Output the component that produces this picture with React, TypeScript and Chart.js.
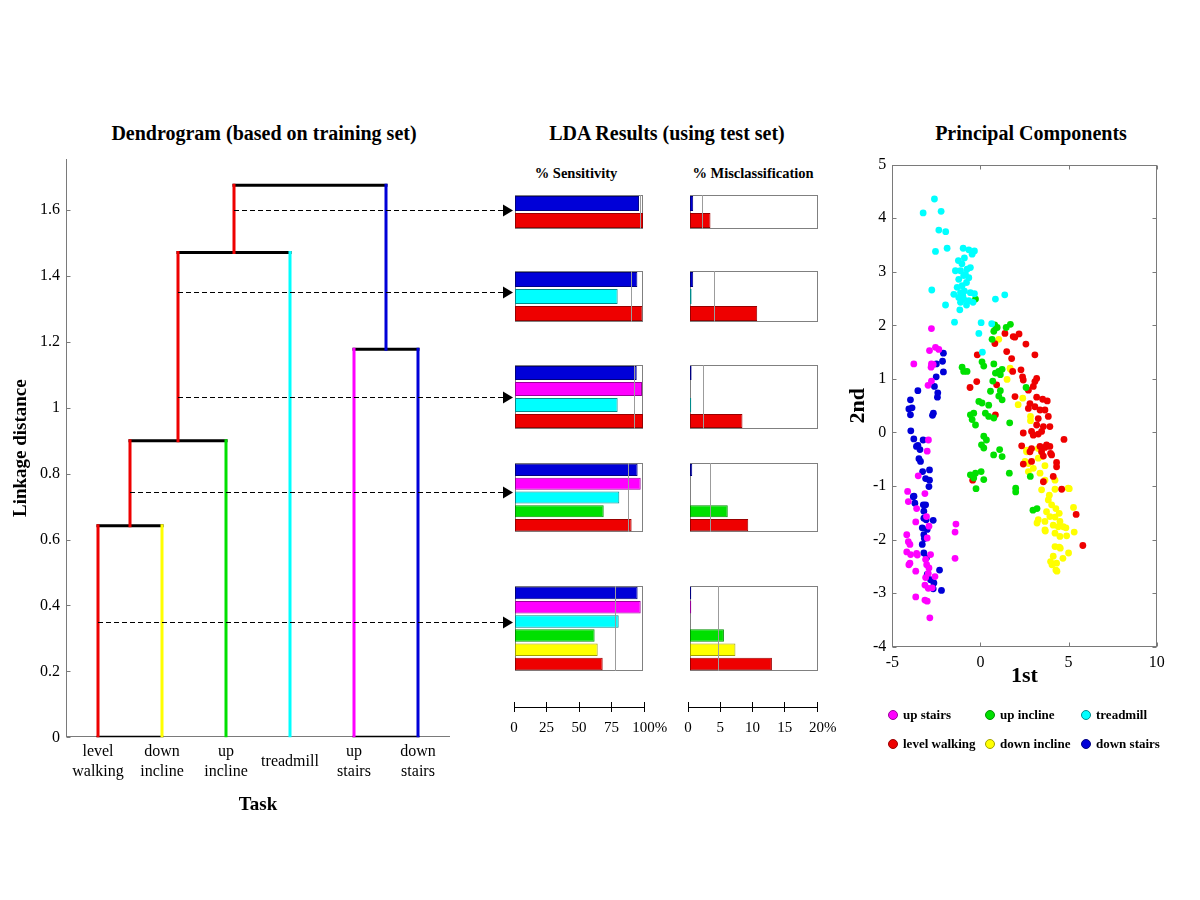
import React, { useEffect, useRef } from 'react';
import { Chart, registerables } from 'chart.js';

Chart.register(...registerables);

const SERIF = '"Liberation Serif", "Times New Roman", Times, serif';

// ---------------- classes & colours ----------------
const classNames: Record<string, string> = {
  levelWalking: 'level walking',
  downIncline: 'down incline',
  upIncline: 'up incline',
  treadmill: 'treadmill',
  upStairs: 'up stairs',
  downStairs: 'down stairs',
};
const palette: Record<string, string> = {
  levelWalking: '#ee0000',
  downIncline: '#ffff00',
  upIncline: '#00e000',
  treadmill: '#00ffff',
  upStairs: '#ff00ff',
  downStairs: '#0000d8',
};
const edgePalette: Record<string, string> = {
  levelWalking: '#990000',
  downIncline: '#a0a000',
  upIncline: '#009000',
  treadmill: '#008b8b',
  upStairs: '#990099',
  downStairs: '#000080',
};

// ---------------- dendrogram data ----------------
const leafLabels: (string | string[])[] = [
  ['level', 'walking'], ['down', 'incline'], ['up', 'incline'], 'treadmill', ['up', 'stairs'], ['down', 'stairs'],
];
const leafClasses = ['levelWalking', 'downIncline', 'upIncline', 'treadmill', 'upStairs', 'downStairs'];
// merges: node ids 1..6 are leaves, 7.. are merges in order
const mergeLeft = [1, 7, 8, 5, 9];
const mergeRight = [2, 3, 4, 6, 10];
const mergeHeight = [0.642, 0.9, 1.471, 1.178, 1.675];
const mergeStemClass = ['levelWalking', 'levelWalking', 'levelWalking', 'downStairs', ''];
const zeroLinks = [[1, 2], [5, 6]];
const cutHeights = [1.6, 1.35, 1.034, 0.743, 0.351];
const linkageTicks = [0, 0.2, 0.4, 0.6, 0.8, 1, 1.2, 1.4, 1.6];

// ---------------- LDA data ----------------
const ldaRowClasses = [
  ['downStairs', 'levelWalking'],
  ['downStairs', 'treadmill', 'levelWalking'],
  ['downStairs', 'upStairs', 'treadmill', 'levelWalking'],
  ['downStairs', 'upStairs', 'treadmill', 'upIncline', 'levelWalking'],
  ['downStairs', 'upStairs', 'treadmill', 'upIncline', 'downIncline', 'levelWalking'],
];
const sensitivityRows = [
  [96.9, 100],
  [95.6, 80.2, 99.5],
  [95.1, 99.2, 80.2, 100],
  [95.8, 98.2, 81.5, 69.3, 91.1],
  [95.8, 98.2, 81.0, 62.2, 64.6, 68.5],
];
const misclassRows = [
  [0.5, 3.2],
  [0.5, 0.25, 10.5],
  [0.25, 0, 0.2, 8.2],
  [0.35, 0, 0, 5.9, 9.1],
  [0.2, 0.2, 0, 5.3, 7.1, 12.8],
];
const sensitivityMean = [97.7, 91, 93, 88, 78];
const misclassMean = [1.9, 3.7, 2.1, 3.1, 4.3];
const sensitivityTicks = [0, 25, 50, 75, 100];
const misclassTicks = [0, 5, 10, 15, 20];

// ---------------- PCA data ----------------
const upStairsPts = [
  [-2.78, 1.94], [-3.78, 1.28], [-2.89, 1.53], [-2.55, 1.59], [-2.36, 1.55], [-2.78, 1.28], [-2.80, 1.22], [-2.68, 1.27],
  [-2.78, 0.96], [-2.97, 0.88], [-2.95, -0.14], [-3.02, -0.35], [-3.53, -0.81], [-3.15, -1.14], [-4.13, -1.10], [-4.09, -1.29],
  [-3.62, -1.42], [-3.67, -1.67], [-3.06, -1.57], [-2.92, -1.75], [-4.18, -1.91], [-4.09, -2.04], [-4.0, -2.09], [-4.18, -2.23],
  [-3.96, -2.28], [-4.0, -2.44], [-4.06, -2.47], [-3.62, -2.26], [-3.58, -2.29], [-3.67, -2.59], [-3.05, -2.47], [-3.11, -2.37],
  [-2.96, -2.63], [-2.58, -2.69], [-3.11, -2.71], [-3.15, -2.85], [-2.96, -2.91], [-2.74, -2.90], [-3.67, -3.07], [-3.15, -3.13],
  [-3.02, -3.15], [-2.87, -3.46], [-1.39, -1.71], [-1.44, -1.86], [-1.44, -2.35], [-3.02, -1.97], [-2.83, -2.28], [-2.92, -2.53],
];
const downStairsPts = [
  [-2.10, 1.48], [-2.15, 1.33], [-2.50, 1.28], [-2.10, 1.13], [-2.51, 1.04], [-2.61, 0.86], [-2.42, 0.74], [-2.44, 0.66],
  [-3.55, 0.78], [-3.97, 0.61], [-4.06, 0.44], [-3.88, 0.46], [-3.97, 0.33], [-2.72, 0.32], [-2.67, 0.36], [-3.95, 0.03],
  [-3.78, -0.12], [-3.25, -0.14], [-3.63, -0.26], [-3.55, -0.24], [-3.43, -0.32], [-3.49, -0.49], [-3.40, -0.54], [-3.28, -0.73],
  [-3.11, -0.86], [-2.89, -0.89], [-2.92, -1.01], [-2.89, -0.70], [-3.77, -1.19], [-3.72, -1.32], [-3.24, -1.35], [-3.21, -1.47],
  [-3.21, -1.60], [-3.08, -1.63], [-2.68, -1.64], [-3.30, -1.78], [-3.02, -1.81], [-3.21, -1.91], [-3.18, -1.98], [-3.30, -2.09],
  [-3.21, -2.25], [-3.06, -2.34], [-3.02, -2.65], [-2.32, -2.57], [-2.83, -2.75], [-2.64, -2.81], [-2.68, -2.92], [-2.21, -2.95],
  [-3.11, -1.35], [-3.81, -1.20],
];
const treadmillPts = [
  [-2.61, 4.36], [-3.25, 4.10], [-2.23, 4.13], [-2.36, 3.78], [-1.97, 3.75], [-2.55, 3.38], [-1.89, 3.44], [-2.76, 2.66],
  [-1.98, 2.38], [-1.47, 2.06], [-1.17, 2.29], [-0.98, 3.44], [-0.66, 3.41], [-0.34, 3.39], [-0.47, 3.33], [-0.91, 3.26],
  [-1.25, 3.21], [-1.13, 3.02], [-0.76, 3.05], [-0.57, 3.08], [-1.42, 3.02], [-0.95, 2.93], [-0.66, 2.89], [-1.23, 2.86],
  [-0.79, 2.80], [-1.04, 2.74], [-1.32, 2.71], [-1.13, 2.61], [-0.91, 2.64], [-0.57, 2.61], [-0.34, 2.59], [-1.51, 2.58],
  [-1.23, 2.52], [-0.95, 2.49], [-0.66, 2.46], [-0.42, 2.43], [-1.13, 2.43], [-0.79, 2.38], [0.85, 2.49], [1.38, 2.57],
  [0.04, 2.05], [-0.09, 1.85], [0.11, 1.50], [0.64, 2.03], [-1.05, 3.15], [-0.85, 2.95], [-1.0, 2.55],
];
const upInclinePts = [
  [-0.28, 2.49], [0.81, 2.01], [0.95, 1.96], [0.76, 1.89], [1.46, 1.96], [1.70, 2.02], [0.66, 1.74], [-1.04, 1.22],
  [-0.95, 1.14], [-0.76, 1.14], [0.09, 1.32], [0.19, 1.24], [0.76, 1.28], [0.85, 1.11], [1.04, 1.14], [1.23, 1.18],
  [1.13, 1.08], [0.70, 0.96], [0.57, 0.77], [1.13, 0.78], [1.04, 0.68], [1.23, 0.61], [-0.09, 0.58], [0.09, 0.55],
  [0.47, 0.51], [-0.38, 0.36], [0.28, 0.36], [0.47, 0.30], [0.76, 0.27], [-0.47, 0.24], [-0.28, 0.14], [1.66, 0.18],
  [2.59, 0.84], [-0.57, 0.33], [0.19, -0.07], [0.34, -0.14], [0.06, -0.23], [0.19, -0.29], [0.75, -0.42], [1.09, -0.32],
  [1.23, -0.45], [1.64, -0.76], [-0.57, -0.79], [-0.28, -0.76], [0.04, -0.73], [-0.38, -0.85], [0.19, -0.88], [-0.25, -1.05],
  [2.0, -1.04], [2.0, -1.11], [2.98, -1.45], [3.21, -1.42], [2.83, -0.82],
];
const levelWalkingPts = [
  [1.95, 1.78], [1.39, 1.85], [1.86, 1.79], [2.19, 1.84], [0.82, 1.66], [2.58, 1.65], [1.49, 1.51], [3.09, 1.45],
  [-0.18, 1.45], [1.77, 1.38], [1.83, 1.14], [2.30, 1.17], [2.39, 1.04], [2.43, 0.98], [3.19, 1.01], [3.09, 0.95],
  [3.0, 0.86], [0.92, 0.89], [-0.21, 0.95], [-0.59, 0.84], [2.72, 0.79], [1.96, 0.67], [3.19, 0.66], [3.53, 0.62],
  [3.79, 0.59], [2.81, 0.54], [2.72, 0.45], [3.09, 0.48], [3.38, 0.42], [3.66, 0.42], [3.85, 0.30], [3.28, 0.26],
  [3.57, 0.11], [3.94, 0.11], [3.19, 0.14], [2.90, 0.02], [3.0, -0.05], [3.28, -0.03], [3.47, 0.02], [2.43, -0.01],
  [4.74, -0.13], [2.34, -0.25], [3.38, -0.26], [3.66, -0.28], [3.94, -0.26], [2.81, -0.36], [3.47, -0.36], [4.04, -0.42],
  [2.43, -0.59], [2.90, -0.54], [4.32, -0.56], [4.32, -0.64], [2.90, -0.30], [3.75, -0.23], [3.98, -0.39], [3.57, -0.44],
  [4.13, -0.82], [3.57, -0.92], [4.61, -1.06], [-0.44, -0.89], [5.43, -1.53], [5.81, -2.11], [0.85, 0.33],
];
const downInclinePts = [
  [1.04, 1.74], [1.51, 0.99], [1.70, 1.18], [2.40, 0.64], [2.14, 0.52], [2.84, 0.30], [2.84, 0.22], [1.68, 1.20],
  [2.62, -0.33], [3.28, -0.30], [3.47, -0.45], [3.66, -0.62], [2.53, -0.54], [2.62, -0.36], [3.47, -0.36], [3.28, -0.48],
  [2.72, -0.58], [2.72, -0.73], [3.0, -0.67], [3.38, -0.76], [3.66, -0.89], [4.23, -0.89], [3.47, -1.07], [3.91, -1.17],
  [4.23, -1.06], [3.85, -1.26], [4.04, -1.35], [4.28, -1.42], [4.47, -1.51], [3.75, -1.48], [3.94, -1.57], [4.23, -1.58],
  [4.51, -1.66], [3.28, -1.63], [3.66, -1.66], [4.13, -1.73], [4.42, -1.76], [4.70, -1.76], [3.66, -1.82], [4.23, -1.88],
  [4.51, -1.94], [4.23, -2.13], [4.47, -2.14], [4.13, -2.31], [3.98, -2.41], [4.32, -2.44], [4.28, -2.57], [4.89, -1.93],
  [4.98, -1.04], [5.04, -1.05], [5.28, -1.40], [5.32, -1.86], [5.0, -2.25], [4.68, -2.35], [4.06, -2.47], [4.34, -2.59],
  [4.53, -2.16], [3.21, -1.69], [3.68, -1.84], [4.85, -1.78],
];
const pcaSeries: [string, number[][]][] = [
  ['upStairs', upStairsPts],
  ['downStairs', downStairsPts],
  ['treadmill', treadmillPts],
  ['upIncline', upInclinePts],
  ['levelWalking', levelWalkingPts],
  ['downIncline', downInclinePts],
];
const pcaXTicks = [-5, 0, 5, 10];
const pcaYTicks = [-4, -3, -2, -1, 0, 1, 2, 3, 4, 5];
const legendOrder = ['upStairs', 'upIncline', 'treadmill', 'levelWalking', 'downIncline', 'downStairs'];

// ---------------- dendrogram geometry from linkage ----------------
type VSeg = { x: number; y0: number; y1: number; color: string };
type HSeg = { x0: number; x1: number; y: number };
function buildDendrogram() {
  const nodeX: Record<number, number> = {};
  const nodeH: Record<number, number> = {};
  const nodeColor: Record<number, string> = {};
  leafClasses.forEach((c, i) => {
    nodeX[i + 1] = i + 1;
    nodeH[i + 1] = 0;
    nodeColor[i + 1] = palette[c];
  });
  const verticals: VSeg[] = [];
  const horizontals: HSeg[] = [];
  mergeHeight.forEach((h, k) => {
    const id = leafClasses.length + 1 + k;
    const l = mergeLeft[k];
    const r = mergeRight[k];
    verticals.push({ x: nodeX[l], y0: nodeH[l], y1: h, color: nodeColor[l] });
    verticals.push({ x: nodeX[r], y0: nodeH[r], y1: h, color: nodeColor[r] });
    horizontals.push({ x0: nodeX[l], x1: nodeX[r], y: h });
    nodeX[id] = (nodeX[l] + nodeX[r]) / 2;
    nodeH[id] = h;
    nodeColor[id] = mergeStemClass[k] ? palette[mergeStemClass[k]] : '#000';
  });
  zeroLinks.forEach(([a, b]) => horizontals.push({ x0: a, x1: b, y: 0 }));
  return { verticals, horizontals };
}
const dendro = buildDendrogram();

// ---------------- plugins ----------------
const framePlugin = {
  id: 'frame',
  beforeDatasetsDraw(chart: any, _args: any, opts: any) {
    const sides: string = (opts && opts.sides) || '';
    if (!sides) return;
    const { ctx, chartArea: a } = chart;
    const L = Math.round(a.left) + 0.5;
    const R = Math.round(a.right) - 0.5;
    const T = Math.round(a.top) + 0.5;
    const B = Math.round(a.bottom) - 0.5;
    ctx.save();
    ctx.strokeStyle = opts.color || '#7a7a7a';
    ctx.lineWidth = 1;
    ctx.beginPath();
    if (sides.includes('l')) { ctx.moveTo(L, T - 0.5); ctx.lineTo(L, B + 0.5); }
    if (sides.includes('r')) { ctx.moveTo(R, T - 0.5); ctx.lineTo(R, B + 0.5); }
    if (sides.includes('t')) { ctx.moveTo(L - 0.5, T); ctx.lineTo(R + 0.5, T); }
    if (sides.includes('b')) { ctx.moveTo(L - 0.5, B); ctx.lineTo(R + 0.5, B); }
    const len = opts.tickLen || 0;
    if (len && opts.yTicks) {
      const ys = chart.scales.y;
      ys.ticks.forEach((t: any) => {
        const p = Math.round(ys.getPixelForValue(t.value)) + 0.5;
        ctx.moveTo(L, p); ctx.lineTo(L + len, p);
        if (opts.mirror) { ctx.moveTo(R, p); ctx.lineTo(R - len, p); }
      });
    }
    if (len && opts.xTicks) {
      const xs = chart.scales.x;
      xs.ticks.forEach((t: any) => {
        const p = Math.round(xs.getPixelForValue(t.value)) + 0.5;
        ctx.moveTo(p, B); ctx.lineTo(p, B - len);
        if (opts.mirror) { ctx.moveTo(p, T); ctx.lineTo(p, T + len); }
      });
    }
    ctx.stroke();
    ctx.restore();
  },
};

const refLinePlugin = {
  id: 'refLine',
  afterDatasetsDraw(chart: any, _args: any, opts: any) {
    if (!opts || opts.value == null) return;
    const { ctx, chartArea: a } = chart;
    const x = Math.round(chart.scales.x.getPixelForValue(opts.value)) + 0.5;
    ctx.save();
    ctx.strokeStyle = '#9c9c9c';
    ctx.lineWidth = 1;
    ctx.beginPath();
    ctx.moveTo(x, a.top);
    ctx.lineTo(x, a.bottom);
    ctx.stroke();
    ctx.restore();
  },
};

const cutsPlugin = {
  id: 'cuts',
  afterDatasetsDraw(chart: any) {
    const { ctx } = chart;
    const xs = chart.scales.x;
    const ys = chart.scales.y;
    const endX = chart.width - 17;
    ctx.save();
    ctx.strokeStyle = '#000';
    ctx.fillStyle = '#000';
    ctx.lineWidth = 1;
    cutHeights.forEach((h) => {
      const spanning = dendro.verticals.filter((s) => s.y0 <= h && s.y1 >= h);
      const startX = Math.min(...spanning.map((s) => s.x));
      const px = xs.getPixelForValue(startX);
      const py = Math.round(ys.getPixelForValue(h)) + 0.5;
      ctx.setLineDash([5, 3]);
      ctx.beginPath();
      ctx.moveTo(px, py);
      ctx.lineTo(endX, py);
      ctx.stroke();
      ctx.setLineDash([]);
      ctx.beginPath();
      ctx.moveTo(endX, py - 6);
      ctx.lineTo(endX + 10, py);
      ctx.lineTo(endX, py + 6);
      ctx.closePath();
      ctx.fill();
    });
    ctx.restore();
  },
};

// ---------------- configs ----------------
function dendrogramConfig(): any {
  const datasets: any[] = [];
  dendro.verticals.forEach((s) =>
    datasets.push({
      data: [{ x: s.x, y: s.y0 }, { x: s.x, y: s.y1 }],
      borderColor: s.color, borderWidth: 3, showLine: true, pointRadius: 0, borderCapStyle: 'square',
    }),
  );
  dendro.horizontals.forEach((s) =>
    datasets.push({
      data: [{ x: s.x0, y: s.y }, { x: s.x1, y: s.y }],
      borderColor: '#000', borderWidth: 3, showLine: true, pointRadius: 0, borderCapStyle: 'square',
    }),
  );
  return {
    type: 'scatter',
    data: { datasets },
    options: {
      responsive: false,
      animation: false,
      layout: { padding: { left: 0, right: 70, top: 59, bottom: 0 } },
      scales: {
        x: {
          type: 'linear', min: 0.5, max: 6.5,
          afterBuildTicks: (s: any) => { s.ticks = leafLabels.map((_, i) => ({ value: i + 1 })); },
          afterFit: (s: any) => { s.height = 92.7; s.paddingLeft = 0; s.paddingRight = 0; },
          ticks: {
            autoSkip: false, maxRotation: 0, minRotation: 0, crossAlign: 'center', padding: 14, color: '#000',
            font: { family: SERIF, size: 16, lineHeight: 1.25 },
            callback: (v: number) => leafLabels[Math.round(v) - 1],
          },
          grid: { display: false, drawTicks: false },
          border: { display: false },
          title: {
            display: true, text: 'Task', color: '#000',
            font: { family: SERIF, size: 19, weight: 'bold' }, padding: { top: 0, bottom: 14 },
          },
        },
        y: {
          type: 'linear', min: 0, max: 1.755,
          afterBuildTicks: (s: any) => { s.ticks = linkageTicks.map((v) => ({ value: v })); },
          afterFit: (s: any) => { s.width = 66; s.paddingTop = 0; s.paddingBottom = 0; },
          ticks: {
            padding: 6, color: '#000', font: { family: SERIF, size: 16 },
            callback: (v: number) => String(Math.round(v * 10) / 10),
          },
          grid: { display: false, drawTicks: false },
          border: { display: false },
          title: {
            display: true, text: 'Linkage distance', color: '#000',
            font: { family: SERIF, size: 19, weight: 'bold' }, padding: { top: 9.5, bottom: 0 },
          },
        },
      },
      plugins: {
        legend: { display: false },
        tooltip: { enabled: false },
        frame: { sides: 'lb', tickLen: 4, yTicks: true, xTicks: false },
      },
    },
    plugins: [framePlugin, cutsPlugin],
  };
}

function ldaConfig(values: number[], keys: string[], max: number, mean: number): any {
  return {
    type: 'bar',
    data: {
      labels: keys.map((k) => classNames[k]),
      datasets: [{
        data: values,
        backgroundColor: keys.map((k) => palette[k]),
        borderColor: keys.map((k) => edgePalette[k]),
        borderWidth: 1,
        borderSkipped: false,
        categoryPercentage: 0.88,
        barPercentage: 1,
      }],
    },
    options: {
      indexAxis: 'y',
      responsive: false,
      animation: false,
      layout: { padding: 0 },
      scales: {
        x: { display: false, min: 0, max },
        y: { display: false },
      },
      plugins: {
        legend: { display: false },
        tooltip: { enabled: false },
        frame: { sides: 'lrtb', color: '#808080' },
        refLine: { value: mean },
      },
    },
    plugins: [framePlugin, refLinePlugin],
  };
}

function axisConfig(tickValues: number[]): any {
  const max = tickValues[tickValues.length - 1];
  return {
    type: 'scatter',
    data: { datasets: [] },
    options: {
      responsive: false,
      animation: false,
      layout: { padding: { left: 20, right: 30, top: 12, bottom: 0 } },
      scales: {
        x: {
          type: 'linear', min: tickValues[0], max,
          afterBuildTicks: (s: any) => { s.ticks = tickValues.map((v) => ({ value: v })); },
          afterFit: (s: any) => { s.height = 33; s.paddingLeft = 0; s.paddingRight = 0; },
          ticks: {
            padding: 7, color: '#000', autoSkip: false, maxRotation: 0,
            font: { family: SERIF, size: 15 },
            callback: (v: number) => (v === max ? '   ' + v + '%' : String(v)),
          },
          grid: { color: '#000', lineWidth: 1, drawOnChartArea: true, tickLength: 5 },
          border: { color: '#000', width: 1 },
        },
        y: { display: false, min: 0, max: 1 },
      },
      plugins: { legend: { display: false }, tooltip: { enabled: false } },
    },
  };
}

function pcaConfig(): any {
  return {
    type: 'scatter',
    data: {
      datasets: pcaSeries.map(([key, pts]) => ({
        label: classNames[key],
        data: pts.map(([x, y]) => ({ x, y })),
        backgroundColor: palette[key],
        borderWidth: 0,
        pointRadius: 3.4,
      })),
    },
    options: {
      responsive: false,
      animation: false,
      layout: { padding: { left: 0, right: 23.3, top: 14.7, bottom: 0 } },
      scales: {
        x: {
          type: 'linear', min: -5, max: 10,
          afterBuildTicks: (s: any) => { s.ticks = pcaXTicks.map((v) => ({ value: v })); },
          afterFit: (s: any) => { s.height = 48.3; s.paddingLeft = 0; s.paddingRight = 0; },
          ticks: { padding: 6, color: '#000', font: { family: SERIF, size: 16 } },
          grid: { display: false, drawTicks: false },
          border: { display: false },
          title: {
            display: true, text: '1st', color: '#000',
            font: { family: SERIF, size: 22, weight: 'bold' }, padding: { top: 0, bottom: 5.8 },
          },
        },
        y: {
          type: 'linear', min: -4, max: 5,
          afterBuildTicks: (s: any) => { s.ticks = pcaYTicks.map((v) => ({ value: v })); },
          afterFit: (s: any) => { s.width = 52.3; s.paddingTop = 0; s.paddingBottom = 0; },
          ticks: { padding: 6, color: '#000', font: { family: SERIF, size: 16 } },
          grid: { display: false, drawTicks: false },
          border: { display: false },
          title: {
            display: true, text: '2nd', color: '#000',
            font: { family: SERIF, size: 22, weight: 'bold' }, padding: { top: 4.8, bottom: 0 },
          },
        },
      },
      plugins: {
        legend: { display: false },
        tooltip: { enabled: false },
        frame: { sides: 'lrtb', tickLen: 4, yTicks: true, xTicks: true, mirror: true, color: '#7a7a7a' },
      },
    },
    plugins: [framePlugin],
  };
}

// ---------------- components ----------------
function ChartCanvas(props: { left: number; top: number; width: number; height: number; build: () => any }) {
  const ref = useRef<HTMLCanvasElement>(null);
  useEffect(() => {
    const chart = new Chart(ref.current as HTMLCanvasElement, props.build());
    return () => chart.destroy();
  }, []);
  return (
    <canvas
      ref={ref}
      width={props.width}
      height={props.height}
      style={{ position: 'absolute', left: props.left, top: props.top, width: props.width, height: props.height }}
    />
  );
}

function Title(props: { text: string; cx: number; cy: number; size: number }) {
  return (
    <div
      style={{
        position: 'absolute', left: props.cx - 200, top: props.cy - props.size * 0.6, width: 400,
        textAlign: 'center', fontFamily: SERIF, fontWeight: 'bold', fontSize: props.size,
        lineHeight: `${props.size * 1.2}px`, color: '#000', whiteSpace: 'nowrap',
      }}
    >
      {props.text}
    </div>
  );
}

const rowBoxes = [
  { top: 195, height: 34 },
  { top: 271, height: 51 },
  { top: 365, height: 64 },
  { top: 463, height: 69 },
  { top: 586, height: 85 },
];

export default function App() {
  const legendCols = [888, 985, 1081];
  const legendRows = [715, 744];
  return (
    <div style={{ position: 'absolute', left: 0, top: 0, width: 1200, height: 900, background: '#fff', overflow: 'hidden' }}>
      <Title text="Dendrogram (based on training set)" cx={264} cy={133} size={20} />
      <Title text="LDA Results (using test set)" cx={667} cy={133} size={20} />
      <Title text="Principal Components" cx={1031} cy={133} size={20} />
      <Title text="% Sensitivity" cx={576} cy={174} size={14.5} />
      <Title text="% Misclassification" cx={753} cy={174} size={14.5} />

      {rowBoxes.map((b, i) => (
        <React.Fragment key={i}>
          <ChartCanvas left={515} top={b.top} width={128} height={b.height}
            build={() => ldaConfig(sensitivityRows[i], ldaRowClasses[i], 100, sensitivityMean[i])} />
          <ChartCanvas left={690} top={b.top} width={128} height={b.height}
            build={() => ldaConfig(misclassRows[i], ldaRowClasses[i], 20, misclassMean[i])} />
        </React.Fragment>
      ))}
      <ChartCanvas left={493.5} top={690} width={180} height={50} build={() => axisConfig(sensitivityTicks)} />
      <ChartCanvas left={668.3} top={690} width={179} height={50} build={() => axisConfig(misclassTicks)} />

      <ChartCanvas left={0} top={100} width={520} height={730} build={dendrogramConfig} />
      <ChartCanvas left={840} top={150} width={340} height={545} build={pcaConfig} />

      {legendOrder.map((k, i) => {
        const col = i % 3;
        const row = Math.floor(i / 3);
        return (
          <div key={k} style={{
            position: 'absolute', left: legendCols[col], top: legendRows[row] - 8, height: 16,
            display: 'flex', alignItems: 'center', whiteSpace: 'nowrap',
            fontFamily: SERIF, fontWeight: 'bold', fontSize: 13, color: '#000',
          }}>
            <span style={{
              display: 'inline-block', width: 8, height: 8, borderRadius: '50%',
              background: palette[k], border: `1px solid ${edgePalette[k]}`, marginRight: 5,
            }} />
            {classNames[k]}
          </div>
        );
      })}
    </div>
  );
}
